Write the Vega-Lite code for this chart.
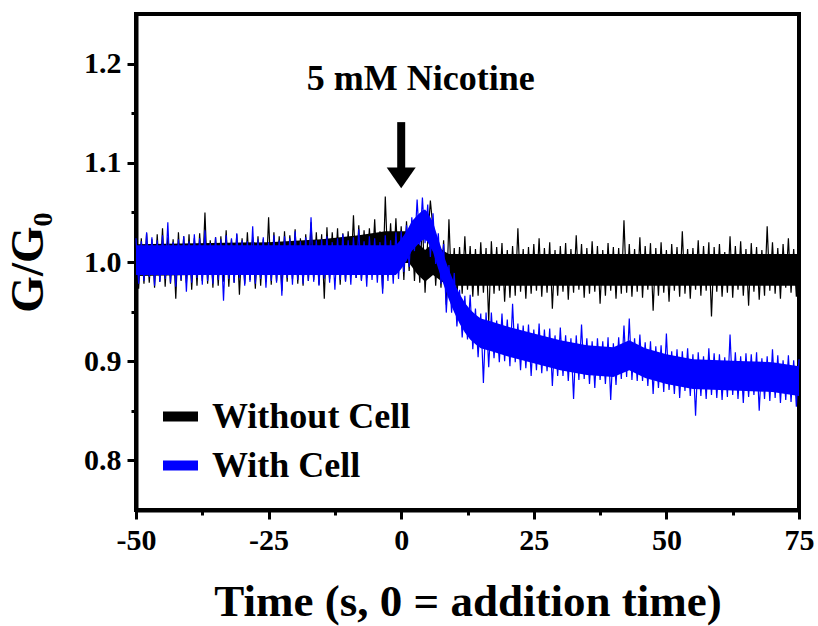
{
"$schema":"https://vega.github.io/schema/vega-lite/v6.json",
"width":663,"height":496,
"autosize":{"type":"none"},
"padding":{"left":136,"top":14,"right":19,"bottom":116},
"background":"white",
"config":{"view":{"stroke":"black","strokeWidth":4},"font":"Liberation Serif"},
"datasets":{
"blueCore":[{"t":-50,"lo":0.987,"hi":1.017},{"t":-1,"lo":0.987,"hi":1.017},{"t":0,"lo":0.993,"hi":1.023},{"t":1,"lo":1.001,"hi":1.031},{"t":2,"lo":1.011,"hi":1.041},{"t":3,"lo":1.017,"hi":1.047},{"t":4,"lo":1.022,"hi":1.052},{"t":4.5,"lo":1.023,"hi":1.053},{"t":5,"lo":1.02,"hi":1.05},{"t":6,"lo":1.01,"hi":1.04},{"t":7,"lo":0.993,"hi":1.023},{"t":8,"lo":0.977,"hi":1.007},{"t":9,"lo":0.962,"hi":0.992},{"t":10,"lo":0.949,"hi":0.979},{"t":11,"lo":0.938,"hi":0.968},{"t":12,"lo":0.929,"hi":0.959},{"t":13,"lo":0.922,"hi":0.952},{"t":14,"lo":0.917,"hi":0.947},{"t":15,"lo":0.913,"hi":0.943},{"t":17,"lo":0.91,"hi":0.94},{"t":20,"lo":0.905,"hi":0.935},{"t":25,"lo":0.898,"hi":0.928},{"t":30,"lo":0.891,"hi":0.921},{"t":35,"lo":0.886,"hi":0.916},{"t":40,"lo":0.884,"hi":0.914},{"t":43,"lo":0.891,"hi":0.921},{"t":46,"lo":0.883,"hi":0.913},{"t":50,"lo":0.877,"hi":0.907},{"t":55,"lo":0.872,"hi":0.902},{"t":60,"lo":0.871,"hi":0.901},{"t":65,"lo":0.87,"hi":0.9},{"t":70,"lo":0.869,"hi":0.899},{"t":75,"lo":0.865,"hi":0.895}],
"blackCore":[{"t":-50,"lo":0.986,"hi":1.018},{"t":-25,"lo":0.988,"hi":1.02},{"t":-15,"lo":0.991,"hi":1.023},{"t":-8,"lo":0.995,"hi":1.027},{"t":-3,"lo":0.999,"hi":1.031},{"t":1.5,"lo":0.999,"hi":1.031},{"t":3,"lo":0.988,"hi":1.02},{"t":4.5,"lo":0.98,"hi":1.012},{"t":6,"lo":0.987,"hi":1.019},{"t":8,"lo":0.979,"hi":1.011},{"t":9,"lo":0.976,"hi":1.008},{"t":75,"lo":0.976,"hi":1.008}],
"black":[{"t":-50,"g":1.026},{"t":-49.5,"g":0.973},{"t":-49,"g":1.024},{"t":-48.5,"g":0.978},{"t":-48,"g":1.029},{"t":-47.5,"g":0.979},{"t":-47,"g":1.023},{"t":-46.5,"g":0.974},{"t":-46,"g":1.028},{"t":-45.5,"g":0.98},{"t":-45,"g":1.034},{"t":-44.5,"g":0.975},{"t":-44,"g":1.025},{"t":-43.5,"g":0.978},{"t":-43,"g":1.023},{"t":-42.5,"g":0.963},{"t":-42,"g":1.03},{"t":-41.5,"g":0.981},{"t":-41,"g":1.026},{"t":-40.5,"g":0.979},{"t":-40,"g":1.028},{"t":-39.5,"g":0.972},{"t":-39,"g":1.024},{"t":-38.5,"g":0.976},{"t":-38,"g":1.029},{"t":-37.5,"g":0.981},{"t":-37,"g":1.05},{"t":-36.5,"g":0.978},{"t":-36,"g":1.022},{"t":-35.5,"g":0.974},{"t":-35,"g":1.025},{"t":-34.5,"g":0.976},{"t":-34,"g":1.026},{"t":-33.5,"g":0.98},{"t":-33,"g":1.032},{"t":-32.5,"g":0.975},{"t":-32,"g":1.023},{"t":-31.5,"g":0.979},{"t":-31,"g":1.028},{"t":-30.5,"g":0.967},{"t":-30,"g":1.024},{"t":-29.5,"g":0.978},{"t":-29,"g":1.03},{"t":-28.5,"g":0.982},{"t":-28,"g":1.025},{"t":-27.5,"g":0.973},{"t":-27,"g":1.026},{"t":-26.5,"g":0.976},{"t":-26,"g":1.023},{"t":-25.5,"g":0.98},{"t":-25,"g":1.045},{"t":-24.5,"g":0.977},{"t":-24,"g":1.03},{"t":-23.5,"g":0.981},{"t":-23,"g":1.026},{"t":-22.5,"g":0.971},{"t":-22,"g":1.031},{"t":-21.5,"g":0.98},{"t":-21,"g":1.027},{"t":-20.5,"g":0.983},{"t":-20,"g":1.033},{"t":-19.5,"g":0.978},{"t":-19,"g":1.024},{"t":-18.5,"g":0.976},{"t":-18,"g":1.028},{"t":-17.5,"g":0.981},{"t":-17,"g":1.04},{"t":-16.5,"g":0.982},{"t":-16,"g":1.03},{"t":-15.5,"g":0.977},{"t":-15,"g":1.028},{"t":-14.5,"g":0.963},{"t":-14,"g":1.035},{"t":-13.5,"g":0.983},{"t":-13,"g":1.03},{"t":-12.5,"g":0.987},{"t":-12,"g":1.034},{"t":-11.5,"g":0.977},{"t":-11,"g":1.029},{"t":-10.5,"g":0.981},{"t":-10,"g":1.031},{"t":-9.5,"g":0.986},{"t":-9,"g":1.047},{"t":-8.5,"g":0.984},{"t":-8,"g":1.037},{"t":-7.5,"g":0.982},{"t":-7,"g":1.032},{"t":-6.5,"g":0.984},{"t":-6,"g":1.034},{"t":-5.5,"g":0.989},{"t":-5,"g":1.043},{"t":-4.5,"g":0.987},{"t":-4,"g":1.031},{"t":-3.5,"g":0.973},{"t":-3,"g":1.066},{"t":-2.5,"g":0.993},{"t":-2,"g":1.039},{"t":-1.5,"g":0.989},{"t":-1,"g":1.044},{"t":-0.5,"g":0.992},{"t":0,"g":1.036},{"t":0.5,"g":0.982},{"t":1,"g":1.041},{"t":1.5,"g":0.991},{"t":2,"g":1.035},{"t":2.5,"g":0.981},{"t":3,"g":1.027},{"t":3.5,"g":0.979},{"t":4,"g":1.043},{"t":4.5,"g":0.969},{"t":5,"g":1.022},{"t":5.5,"g":1.062},{"t":6,"g":1.033},{"t":6.5,"g":0.976},{"t":7,"g":1.02},{"t":7.5,"g":0.974},{"t":8,"g":1.022},{"t":8.5,"g":0.957},{"t":9,"g":1.043},{"t":9.5,"g":0.971},{"t":10,"g":1.014},{"t":10.5,"g":0.963},{"t":11,"g":1.015},{"t":11.5,"g":0.968},{"t":12,"g":1.026},{"t":12.5,"g":0.972},{"t":13,"g":1.016},{"t":13.5,"g":0.965},{"t":14,"g":1.013},{"t":14.5,"g":0.966},{"t":15,"g":1.02},{"t":15.5,"g":0.969},{"t":16,"g":1.014},{"t":16.5,"g":0.94},{"t":17,"g":1.021},{"t":17.5,"g":0.968},{"t":18,"g":1.015},{"t":18.5,"g":0.971},{"t":19,"g":1.019},{"t":19.5,"g":0.96},{"t":20,"g":1.012},{"t":20.5,"g":0.964},{"t":21,"g":1.016},{"t":21.5,"g":0.966},{"t":22,"g":1.034},{"t":22.5,"g":0.97},{"t":23,"g":1.013},{"t":23.5,"g":0.963},{"t":24,"g":1.015},{"t":24.5,"g":0.968},{"t":25,"g":1.018},{"t":25.5,"g":0.971},{"t":26,"g":1.024},{"t":26.5,"g":0.965},{"t":27,"g":1.014},{"t":27.5,"g":0.969},{"t":28,"g":1.02},{"t":28.5,"g":0.953},{"t":29,"g":1.012},{"t":29.5,"g":0.966},{"t":30,"g":1.016},{"t":30.5,"g":0.97},{"t":31,"g":1.019},{"t":31.5,"g":0.962},{"t":32,"g":1.013},{"t":32.5,"g":0.969},{"t":33,"g":1.027},{"t":33.5,"g":0.972},{"t":34,"g":1.018},{"t":34.5,"g":0.964},{"t":35,"g":1.014},{"t":35.5,"g":0.968},{"t":36,"g":1.021},{"t":36.5,"g":0.97},{"t":37,"g":1.016},{"t":37.5,"g":0.958},{"t":38,"g":1.012},{"t":38.5,"g":0.966},{"t":39,"g":1.019},{"t":39.5,"g":0.971},{"t":40,"g":1.015},{"t":40.5,"g":0.963},{"t":41,"g":1.014},{"t":41.5,"g":0.968},{"t":42,"g":1.042},{"t":42.5,"g":0.969},{"t":43,"g":1.018},{"t":43.5,"g":0.965},{"t":44,"g":1.013},{"t":44.5,"g":0.97},{"t":45,"g":1.025},{"t":45.5,"g":0.964},{"t":46,"g":1.016},{"t":46.5,"g":0.972},{"t":47,"g":1.019},{"t":47.5,"g":0.951},{"t":48,"g":1.014},{"t":48.5,"g":0.966},{"t":49,"g":1.02},{"t":49.5,"g":0.969},{"t":50,"g":1.012},{"t":50.5,"g":0.96},{"t":51,"g":1.018},{"t":51.5,"g":0.971},{"t":52,"g":1.015},{"t":52.5,"g":0.965},{"t":53,"g":1.031},{"t":53.5,"g":0.968},{"t":54,"g":1.013},{"t":54.5,"g":0.963},{"t":55,"g":1.014},{"t":55.5,"g":0.972},{"t":56,"g":1.022},{"t":56.5,"g":0.966},{"t":57,"g":1.016},{"t":57.5,"g":0.971},{"t":58,"g":1.02},{"t":58.5,"g":0.945},{"t":59,"g":1.015},{"t":59.5,"g":0.97},{"t":60,"g":1.018},{"t":60.5,"g":0.965},{"t":61,"g":1.01},{"t":61.5,"g":0.969},{"t":62,"g":1.026},{"t":62.5,"g":0.964},{"t":63,"g":1.016},{"t":63.5,"g":0.972},{"t":64,"g":1.021},{"t":64.5,"g":0.966},{"t":65,"g":1.013},{"t":65.5,"g":0.956},{"t":66,"g":1.019},{"t":66.5,"g":0.97},{"t":67,"g":1.015},{"t":67.5,"g":0.962},{"t":68,"g":1.012},{"t":68.5,"g":0.966},{"t":69,"g":1.036},{"t":69.5,"g":0.971},{"t":70,"g":1.02},{"t":70.5,"g":0.968},{"t":71,"g":1.014},{"t":71.5,"g":0.963},{"t":72,"g":1.018},{"t":72.5,"g":0.974},{"t":73,"g":1.024},{"t":73.5,"g":0.969},{"t":74,"g":1.013},{"t":74.5,"g":0.965},{"t":75,"g":1.016}],
"blue":[{"t":-50,"g":1.024},{"t":-49.5,"g":0.978},{"t":-49,"g":1.021},{"t":-48.5,"g":0.981},{"t":-48,"g":1.03},{"t":-47.5,"g":0.985},{"t":-47,"g":1.025},{"t":-46.5,"g":0.976},{"t":-46,"g":1.022},{"t":-45.5,"g":0.98},{"t":-45,"g":1.027},{"t":-44.5,"g":0.983},{"t":-44,"g":1.04},{"t":-43.5,"g":0.979},{"t":-43,"g":1.02},{"t":-42.5,"g":0.975},{"t":-42,"g":1.023},{"t":-41.5,"g":0.982},{"t":-41,"g":1.026},{"t":-40.5,"g":0.97},{"t":-40,"g":1.021},{"t":-39.5,"g":0.979},{"t":-39,"g":1.028},{"t":-38.5,"g":0.984},{"t":-38,"g":1.024},{"t":-37.5,"g":0.977},{"t":-37,"g":1.032},{"t":-36.5,"g":0.981},{"t":-36,"g":1.019},{"t":-35.5,"g":0.978},{"t":-35,"g":1.025},{"t":-34.5,"g":0.982},{"t":-34,"g":1.023},{"t":-33.5,"g":0.961},{"t":-33,"g":1.027},{"t":-32.5,"g":0.983},{"t":-32,"g":1.024},{"t":-31.5,"g":0.979},{"t":-31,"g":1.029},{"t":-30.5,"g":0.984},{"t":-30,"g":1.022},{"t":-29.5,"g":0.976},{"t":-29,"g":1.021},{"t":-28.5,"g":0.98},{"t":-28,"g":1.036},{"t":-27.5,"g":0.978},{"t":-27,"g":1.023},{"t":-26.5,"g":0.983},{"t":-26,"g":1.025},{"t":-25.5,"g":0.974},{"t":-25,"g":1.02},{"t":-24.5,"g":0.981},{"t":-24,"g":1.027},{"t":-23.5,"g":0.979},{"t":-23,"g":1.022},{"t":-22.5,"g":0.966},{"t":-22,"g":1.026},{"t":-21.5,"g":0.984},{"t":-21,"g":1.024},{"t":-20.5,"g":0.977},{"t":-20,"g":1.031},{"t":-19.5,"g":0.982},{"t":-19,"g":1.021},{"t":-18.5,"g":0.978},{"t":-18,"g":1.025},{"t":-17.5,"g":0.981},{"t":-17,"g":1.045},{"t":-16.5,"g":0.98},{"t":-16,"g":1.022},{"t":-15.5,"g":0.976},{"t":-15,"g":1.023},{"t":-14.5,"g":0.983},{"t":-14,"g":1.026},{"t":-13.5,"g":0.979},{"t":-13,"g":1.02},{"t":-12.5,"g":0.972},{"t":-12,"g":1.024},{"t":-11.5,"g":0.982},{"t":-11,"g":1.028},{"t":-10.5,"g":0.98},{"t":-10,"g":1.022},{"t":-9.5,"g":0.977},{"t":-9,"g":1.025},{"t":-8.5,"g":0.984},{"t":-8,"g":1.033},{"t":-7.5,"g":0.981},{"t":-7,"g":1.021},{"t":-6.5,"g":0.975},{"t":-6,"g":1.026},{"t":-5.5,"g":0.982},{"t":-5,"g":1.024},{"t":-4.5,"g":0.979},{"t":-4,"g":1.02},{"t":-3.5,"g":0.968},{"t":-3,"g":1.027},{"t":-2.5,"g":0.981},{"t":-2,"g":1.022},{"t":-1.5,"g":0.978},{"t":-1,"g":1.03},{"t":-0.5,"g":0.983},{"t":0,"g":1.031},{"t":0.5,"g":0.99},{"t":1,"g":1.037},{"t":1.5,"g":0.995},{"t":2,"g":1.045},{"t":2.5,"g":1.011},{"t":3,"g":1.063},{"t":3.5,"g":1.017},{"t":4,"g":1.065},{"t":4.5,"g":1.019},{"t":5,"g":1.058},{"t":5.5,"g":1.005},{"t":6,"g":1.049},{"t":6.5,"g":0.998},{"t":7,"g":1.029},{"t":7.5,"g":0.978},{"t":8,"g":1.018},{"t":8.5,"g":0.949},{"t":9,"g":0.997},{"t":9.5,"g":0.949},{"t":10,"g":0.989},{"t":10.5,"g":0.935},{"t":11,"g":0.972},{"t":11.5,"g":0.924},{"t":12,"g":0.966},{"t":12.5,"g":0.922},{"t":13,"g":0.967},{"t":13.5,"g":0.912},{"t":14,"g":0.953},{"t":14.5,"g":0.904},{"t":15,"g":0.948},{"t":15.5,"g":0.878},{"t":16,"g":0.949},{"t":16.5,"g":0.894},{"t":17,"g":0.949},{"t":17.5,"g":0.903},{"t":18,"g":0.941},{"t":18.5,"g":0.899},{"t":19,"g":0.948},{"t":19.5,"g":0.9},{"t":20,"g":0.942},{"t":20.5,"g":0.895},{"t":21,"g":0.958},{"t":21.5,"g":0.899},{"t":22,"g":0.938},{"t":22.5,"g":0.891},{"t":23,"g":0.936},{"t":23.5,"g":0.893},{"t":24,"g":0.937},{"t":24.5,"g":0.885},{"t":25,"g":0.932},{"t":25.5,"g":0.891},{"t":26,"g":0.938},{"t":26.5,"g":0.888},{"t":27,"g":0.932},{"t":27.5,"g":0.89},{"t":28,"g":0.933},{"t":28.5,"g":0.875},{"t":29,"g":0.926},{"t":29.5,"g":0.885},{"t":30,"g":0.934},{"t":30.5,"g":0.885},{"t":31,"g":0.926},{"t":31.5,"g":0.88},{"t":32,"g":0.923},{"t":32.5,"g":0.862},{"t":33,"g":0.926},{"t":33.5,"g":0.881},{"t":34,"g":0.937},{"t":34.5,"g":0.882},{"t":35,"g":0.923},{"t":35.5,"g":0.877},{"t":36,"g":0.92},{"t":36.5,"g":0.873},{"t":37,"g":0.923},{"t":37.5,"g":0.881},{"t":38,"g":0.92},{"t":38.5,"g":0.877},{"t":39,"g":0.924},{"t":39.5,"g":0.861},{"t":40,"g":0.918},{"t":40.5,"g":0.876},{"t":41,"g":0.924},{"t":41.5,"g":0.882},{"t":42,"g":0.936},{"t":42.5,"g":0.884},{"t":43,"g":0.943},{"t":43.5,"g":0.881},{"t":44,"g":0.923},{"t":44.5,"g":0.88},{"t":45,"g":0.927},{"t":45.5,"g":0.88},{"t":46,"g":0.919},{"t":46.5,"g":0.875},{"t":47,"g":0.92},{"t":47.5,"g":0.867},{"t":48,"g":0.915},{"t":48.5,"g":0.873},{"t":49,"g":0.916},{"t":49.5,"g":0.869},{"t":50,"g":0.928},{"t":50.5,"g":0.871},{"t":51,"g":0.91},{"t":51.5,"g":0.867},{"t":52,"g":0.912},{"t":52.5,"g":0.863},{"t":53,"g":0.91},{"t":53.5,"g":0.87},{"t":54,"g":0.913},{"t":54.5,"g":0.865},{"t":55,"g":0.907},{"t":55.5,"g":0.845},{"t":56,"g":0.909},{"t":56.5,"g":0.865},{"t":57,"g":0.905},{"t":57.5,"g":0.862},{"t":58,"g":0.913},{"t":58.5,"g":0.866},{"t":59,"g":0.908},{"t":59.5,"g":0.863},{"t":60,"g":0.907},{"t":60.5,"g":0.861},{"t":61,"g":0.904},{"t":61.5,"g":0.864},{"t":62,"g":0.927},{"t":62.5,"g":0.866},{"t":63,"g":0.909},{"t":63.5,"g":0.862},{"t":64,"g":0.905},{"t":64.5,"g":0.858},{"t":65,"g":0.908},{"t":65.5,"g":0.864},{"t":66,"g":0.907},{"t":66.5,"g":0.866},{"t":67,"g":0.909},{"t":67.5,"g":0.85},{"t":68,"g":0.903},{"t":68.5,"g":0.862},{"t":69,"g":0.905},{"t":69.5,"g":0.86},{"t":70,"g":0.912},{"t":70.5,"g":0.863},{"t":71,"g":0.906},{"t":71.5,"g":0.858},{"t":72,"g":0.901},{"t":72.5,"g":0.861},{"t":73,"g":0.906},{"t":73.5,"g":0.859},{"t":74,"g":0.901},{"t":74.5,"g":0.854},{"t":75,"g":0.902}]
},
"layer":[
{"data":{"name":"blackCore"},"mark":{"type":"area","color":"#000000","opacity":1},
 "encoding":{
  "x":{"field":"t","type":"quantitative","scale":{"domain":[-50,75],"nice":false,"zero":false},
   "axis":{"values":[-50,-37.5,-25,-12.5,0,12.5,25,37.5,50,62.5,75],"labelExpr":"datum.value % 25 === 0 ? '' + datum.value : ''","tickSize":{"condition":{"test":"datum.value % 25 === 0","value":9},"value":5},"tickWidth":3,"tickColor":"black","domainColor":"black","domainWidth":4,"grid":false,"labelFont":"Liberation Serif","labelFontWeight":"bold","labelFontSize":30,"labelColor":"black","labelPadding":6,"labelFlush":false,"title":"Time (s, 0 = addition time)","titleFont":"Liberation Serif","titleFontWeight":"bold","titleFontSize":45,"titleColor":"black","titlePadding":24}},
  "y":{"field":"lo","type":"quantitative","scale":{"domain":[0.75,1.25],"nice":false,"zero":false},
   "axis":{"values":[0.8,0.85,0.9,0.95,1.0,1.05,1.1,1.15,1.2],"labelExpr":"round(datum.value*100) % 10 === 0 ? format(datum.value, '.1f') : ''","tickSize":{"condition":{"test":"round(datum.value*100) % 10 === 0","value":9},"value":5},"tickWidth":3,"tickColor":"black","domainColor":"black","domainWidth":4,"grid":false,"labelFont":"Liberation Serif","labelFontWeight":"bold","labelFontSize":30,"labelColor":"black","labelPadding":6,"title":"G/G₀","titleFont":"Liberation Serif","titleFontWeight":"bold","titleFontSize":47,"titleColor":"black","titlePadding":31}},
  "y2":{"field":"hi"}}},
{"data":{"name":"black"},"mark":{"type":"line","strokeWidth":1.2,"interpolate":"linear"},
 "encoding":{"x":{"field":"t","type":"quantitative"},"y":{"field":"g","type":"quantitative"},
  "color":{"datum":"Without Cell","type":"nominal","scale":{"domain":["Without Cell","With Cell"],"range":["#000000","#0000ff"]},
   "legend":{"orient":"none","legendX":22,"legendY":380,"title":null,"symbolType":"stroke","symbolSize":1225,"symbolStrokeWidth":10,"symbolOpacity":1,"labelFont":"Liberation Serif","labelFontWeight":"bold","labelFontSize":36,"labelColor":"black","labelOffset":9,"labelLimit":400,"rowPadding":6,"padding":0,
    "encode":{"symbols":{"update":{"strokeWidth":{"value":10}}}}}}}},
{"data":{"name":"blueCore"},"mark":{"type":"area","color":"#0000ff","opacity":1},
 "encoding":{"x":{"field":"t","type":"quantitative"},"y":{"field":"lo","type":"quantitative"},"y2":{"field":"hi"}}},
{"data":{"name":"blue"},"mark":{"type":"line","strokeWidth":1.2,"interpolate":"linear"},
 "encoding":{"x":{"field":"t","type":"quantitative"},"y":{"field":"g","type":"quantitative"},
  "color":{"datum":"With Cell","type":"nominal"}}},
{"data":{"values":[{}]},"mark":{"type":"rule","color":"black","strokeWidth":8},
 "encoding":{"x":{"datum":0,"type":"quantitative"},"y":{"datum":1.141,"type":"quantitative"},"y2":{"datum":1.092}}},
{"data":{"values":[{}]},"mark":{"type":"point","shape":"M-1,-0.72L1,-0.72L0,0.72Z","filled":true,"color":"black","opacity":1,"size":841},
 "encoding":{"x":{"datum":0,"type":"quantitative"},"y":{"datum":1.0848,"type":"quantitative"}}},
{"data":{"values":[{"label":"5 mM Nicotine"}]},"mark":{"type":"text","font":"Liberation Serif","fontWeight":"bold","fontSize":36,"color":"black","align":"center","baseline":"alphabetic"},
 "encoding":{"x":{"datum":3.7,"type":"quantitative"},"y":{"datum":1.173,"type":"quantitative"},"text":{"field":"label"}}}
]
}
